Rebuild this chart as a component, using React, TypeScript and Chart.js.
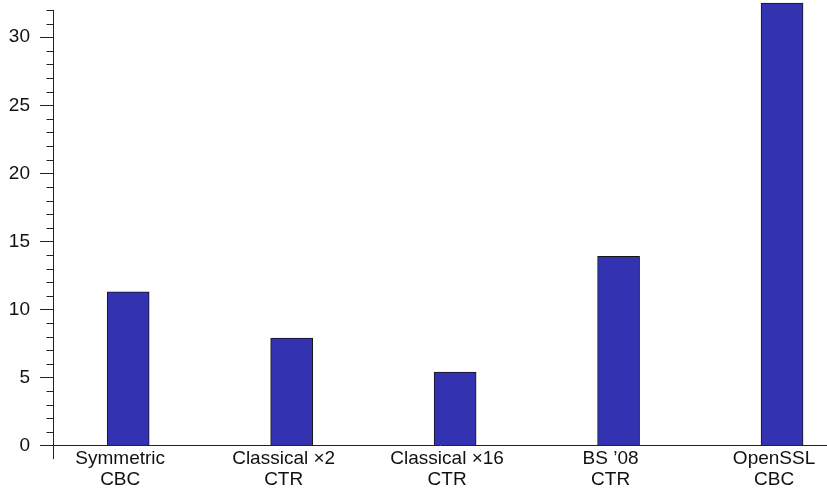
import React, { useEffect, useRef } from 'react';
import { Chart, registerables } from 'chart.js';

Chart.register(...registerables);

const categories = ['Symmetric', 'Classical ×2', 'Classical ×16', 'BS ’08', 'OpenSSL'];
const modes = ['CBC', 'CTR', 'CTR', 'CTR', 'CBC'];
const values = [11.3, 7.9, 5.4, 13.9, 32.5];
const yMajorTicks = [0, 5, 10, 15, 20, 25, 30];

const FONT = "'Liberation Sans', Arial, sans-serif";
const AXIS = '#222222';
const TEXT = '#111111';
const BAR = '#3333b2';

const axisExtras = {
  id: 'axisExtras',
  afterDraw(chart: any) {
    const y = chart.scales.y;
    const left = chart.chartArea.left;
    const ctx = chart.ctx;
    const bx = Math.round(left - 0.5) + 0.5;
    ctx.save();
    ctx.strokeStyle = AXIS;
    ctx.lineWidth = 1;
    // minor ticks
    for (let v = 1; v <= y.max; v++) {
      if (v % 5 === 0) continue;
      const py = Math.round(y.getPixelForValue(v)) + 0.5;
      ctx.beginPath();
      ctx.moveTo(left - 6.5, py);
      ctx.lineTo(left, py);
      ctx.stroke();
    }
    // y axis line extends one unit below zero
    const p0 = y.getPixelForValue(0);
    const pNeg = p0 + (y.getPixelForValue(0) - y.getPixelForValue(1));
    ctx.beginPath();
    ctx.moveTo(bx, p0);
    ctx.lineTo(bx, pNeg);
    ctx.stroke();
    ctx.restore();
  },
};

export default function App() {
  const ref = useRef<HTMLCanvasElement>(null);
  useEffect(() => {
    if (!ref.current) return;
    const chart = new Chart(ref.current, {
      type: 'bar',
      data: {
        datasets: [
          {
            data: values.map((v, i) => ({ x: i, y: v })),
            backgroundColor: BAR,
            borderColor: '#151515',
            borderWidth: 1,
            barThickness: 42,
            clip: false as any,
          },
        ],
      },
      options: {
        animation: false,
        responsive: false,
        layout: { padding: { top: 10, right: 0, left: 0, bottom: 0 } },
        plugins: { legend: { display: false }, tooltip: { enabled: false } },
        scales: {
          x: {
            type: 'linear',
            min: -0.46,
            max: 4.275,
            offset: false,
            grid: { display: false, offset: false, drawTicks: false, tickLength: 0 },
            border: { display: false },
            afterBuildTicks: (s: any) => {
              s.ticks = categories.map((_, i) => ({ value: i }));
            },
            ticks: {
              callback: (v: any) => [categories[v], modes[v]],
              font: { family: FONT, size: 19, lineHeight: 1.085 },
              color: TEXT,
              padding: 3,
              labelOffset: -8,
              maxRotation: 0,
              minRotation: 0,
              autoSkip: false,
            },
            afterFit: (s: any) => {
              s.height = 43.5;
              s.paddingLeft = 0;
              s.paddingRight = 0;
            },
          },
          y: {
            min: 0,
            max: 32,
            afterBuildTicks: (s: any) => {
              s.ticks = yMajorTicks.map((v) => ({ value: v }));
            },
            ticks: {
              font: { family: FONT, size: 19 },
              color: TEXT,
              padding: 10,
            },
            grid: {
              color: (c: any) => (c.tick && c.tick.value === 0 ? AXIS : 'rgba(0,0,0,0)'),
              tickColor: AXIS,
              tickLength: 13,
              lineWidth: 1,
            },
            border: { display: true, color: AXIS, width: 1 },
            afterFit: (s: any) => {
              s.width = 53;
              s.paddingTop = 0;
              s.paddingBottom = 0;
            },
          },
        },
      } as any,
      plugins: [axisExtras],
    });
    return () => chart.destroy();
  }, []);
  return (
    <div style={{ position: 'fixed', left: 0, top: 0, width: 827, height: 489, background: '#fff' }}>
      <canvas ref={ref} width={827} height={489} style={{ width: 827, height: 489 }} />
    </div>
  );
}
